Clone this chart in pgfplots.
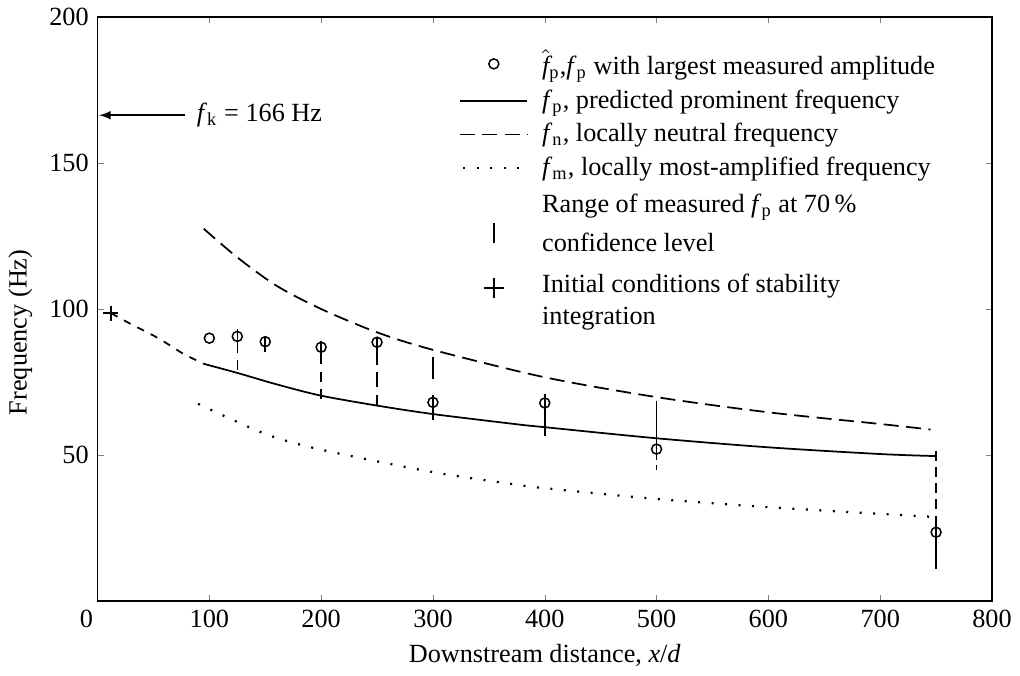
\documentclass[border=0pt]{standalone}
\usepackage{fontspec}
\setmainfont{Liberation Serif}
\usepackage{pgfplots}
\pgfplotsset{compat=1.18}
\newcommand{\fsub}[1]{\textit{f}\textsubscript{#1}}
\begin{document}
\begin{tikzpicture}[font=\fontsize{10.5}{12.6}\selectfont]
\begin{axis}[
  scale only axis, width=358pt, height=233.6pt,
  xmin=0, xmax=800, ymin=0, ymax=200,
  xtick={0,100,...,800}, ytick={50,100,150,200},
  xticklabels={\llap{0\hspace{1.8pt}},100,200,300,400,500,600,700,800},
  major tick length=2.5pt,
  axis line style={line width=0.7pt},
  /pgf/number format/assume math mode=true,
  xlabel={Downstream distance, \textit{x}/\textit{d}},
  ylabel={Frequency (Hz)},
  ylabel style={at={(ticklabel cs:0.46)}},
  legend cell align=left,
  legend style={draw=none, fill=none, at={(axis cs:316,192.2)}, anchor=north west,
    row sep=1.5pt, column sep=4pt, nodes={inner sep=1.5pt}},
  clip=false,
]
% legend entries
\addlegendimage{legend image code/.code={\draw[line width=0.6pt] (0.48cm,0cm) circle (2pt);}}
\addlegendentry{$\hat{\textit{f}}$\textsubscript{p},\fsub{p} with largest measured amplitude}
\addlegendimage{legend image code/.code={\draw[line width=0.7pt] (0cm,0cm) -- (0.95cm,0cm);}}
\addlegendentry{\fsub{p}, predicted prominent frequency}
\addlegendimage{legend image code/.code={\draw[line width=0.7pt,dash pattern=on 6pt off 3pt] (0cm,0cm) -- (0.95cm,0cm);}}
\addlegendentry{\fsub{n}, locally neutral frequency}
\addlegendimage{legend image code/.code={\draw[line width=0.9pt,dash pattern=on 0.8pt off 4.6pt] (0.05cm,0cm) -- (0.95cm,0cm);}}
\addlegendentry{\fsub{m}, locally most-amplified frequency}
\addlegendimage{legend image code/.code={\draw[overlay,line width=0.6pt] (0.48cm,-12pt) -- (0.48cm,-4pt);}}
\addlegendentry{\begin{tabular}{@{}l@{}}Range of measured \fsub{p} at 70\,\%\\[3pt]confidence level\rule[-3pt]{0pt}{1pt}\end{tabular}}
\addlegendimage{legend image code/.code={\draw[overlay,line width=0.6pt] (0.48cm,-9.6pt) -- (0.48cm,-1.6pt) (0.48cm-4pt,-5.6pt) -- (0.48cm+4pt,-5.6pt);}}
\addlegendentry{\begin{tabular}{@{}l@{}}\rule{0pt}{18.2pt}Initial conditions of stability\\integration\end{tabular}}

% initial part (short dashes)
\addplot[forget plot, smooth, line width=0.7pt, dash pattern=on 3pt off 3pt]
  coordinates {(12,98.6) (30,94.8) (50,90.9) (65,87.5) (77,84.6) (95,81.2)};
% fp predicted
\addplot[forget plot, smooth, line width=0.7pt]
  coordinates {(95,81.2) (125,78.1) (160,74.2) (200,70.3) (250,66.9) (300,64.0) (375,60.5) (400,59.5) (500,55.7) (600,52.6) (700,50.3) (750,49.6)};
% fn neutral
\addplot[forget plot, smooth, line width=0.7pt, dash pattern=on 6pt off 3pt]
  coordinates {(95,127.5) (125,117.7) (160,108) (200,100) (250,92) (300,86) (400,76.6) (500,69.8) (600,64.6) (700,60.6) (745,58.7)};
% fm most amplified
\addplot[forget plot, smooth, line width=0.9pt, dash pattern=on 0.8pt off 4.6pt]
  coordinates {(90,67.5) (150,57.2) (200,51.8) (300,44.1) (375,39.8) (400,38.6) (500,34.9) (600,32.1) (700,29.8) (750,28.7)};

% ranges of measured fp
\addplot[forget plot, line width=0.6pt] coordinates {(125,93) (125,88.5)};
\addplot[forget plot, line width=0.6pt, dash pattern=on 4pt off 3pt] coordinates {(125,88.5) (125,78)};
\addplot[forget plot, line width=0.6pt] coordinates {(150,90.6) (150,85.2)};
\addplot[forget plot, line width=0.6pt] coordinates {(200,89) (200,84.5)};
\addplot[forget plot, line width=0.6pt, dash pattern=on 4pt off 3pt] coordinates {(200,84.5) (200,67.5)};
\addplot[forget plot, line width=0.6pt] coordinates {(250,90.5) (250,86)};
\addplot[forget plot, line width=0.6pt, dash pattern=on 6pt off 3pt] coordinates {(250,86) (250,67)};
\addplot[forget plot, line width=0.6pt] coordinates {(300,83.5) (300,76)};
\addplot[forget plot, line width=0.6pt] coordinates {(300,70.5) (300,62)};
\addplot[forget plot, line width=0.6pt] coordinates {(400,71) (400,56.6)};
\addplot[forget plot, line width=0.6pt] coordinates {(500,68.6) (500,50)};
\addplot[forget plot, line width=0.6pt, dash pattern=on 2pt off 2pt] coordinates {(500,50) (500,43.5)};
\addplot[forget plot, line width=0.6pt, dash pattern=on 4pt off 2.5pt] coordinates {(750,51.5) (750,26)};
\addplot[forget plot, line width=0.6pt] coordinates {(750,26) (750,11)};

% measured fp with largest amplitude
\addplot[forget plot, only marks, mark=o, mark size=2pt, mark options={line width=0.6pt}]
  coordinates {(100,90) (125,90.6) (150,88.8) (200,86.9) (250,88.6) (300,68) (400,67.8) (500,52) (750,23.5)};
% initial condition
\addplot[forget plot, only marks, mark=+, mark size=3pt, mark options={line width=0.6pt}]
  coordinates {(12,98.6)};

% fk annotation
\draw[-latex, line width=0.6pt] (axis cs:78,166.4) -- (axis cs:1.5,166.4);
\node[anchor=west] at (axis cs:81,166.4) {\textit{f}\textsubscript{k} = 166 Hz};
\end{axis}
\end{tikzpicture}
\end{document}
